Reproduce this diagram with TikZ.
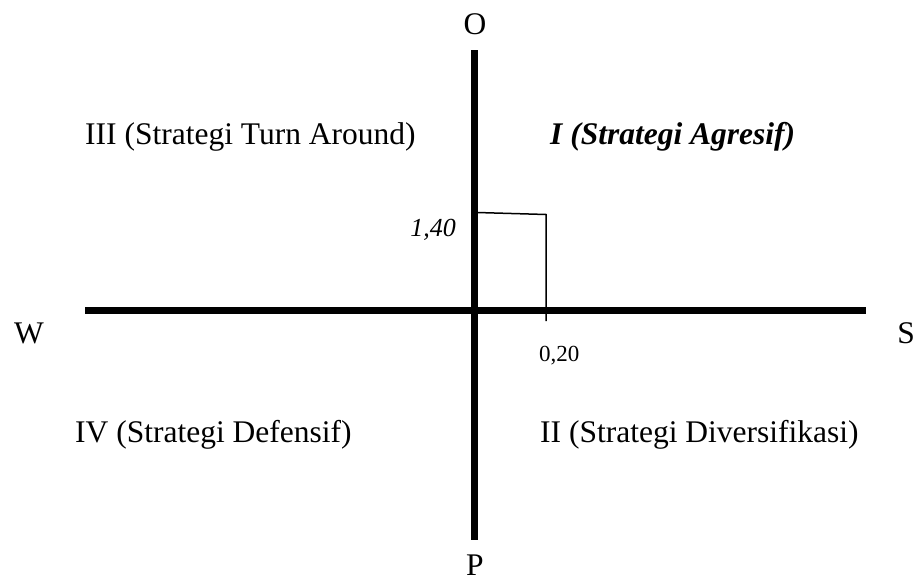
\documentclass[tikz,border=0pt]{standalone}
\usepackage{fontspec}
\setmainfont{Liberation Serif}
\begin{document}
\begin{tikzpicture}[x=1pt, y=-1pt,
  every node/.style={font=\fontsize{31.5}{36}\selectfont, inner sep=0pt},
  axis/.style={line width=7pt},
  guide/.style={line width=1.5pt}]
  \useasboundingbox (0,0) rectangle (924,581);
  % axes
  \coordinate (otop) at (474,50);
  \coordinate (pbot) at (474,540);
  \coordinate (wend) at (85,310);
  \coordinate (send) at (866,310);
  \draw[axis] (otop) -- (pbot);
  \draw[axis] (wend) -- (send);
  % point
  \coordinate (ytick) at (477,212.5);
  \coordinate (corner) at (546,214.5);
  \coordinate (xtick) at (546,321);
  \draw[guide] (ytick) -- (corner) -- (xtick);
  % labels
  \node (o) at (475,24) {O};
  \node[anchor=base] (p) at (475,575) {P};
  \node (w) at (29,333) {W};
  \node (s) at (906,333) {S};
  \node[anchor=west] (q3) at (85,137) {III (Strategi Turn Around)};
  \node[anchor=west] (q1) at (550,137) {\bfseries\itshape I (Strategi Agresif)};
  \node[anchor=west] (q4) at (75,435) {IV (Strategi Defensif)};
  \node[anchor=west] (q2) at (540,435) {II (Strategi Diversifikasi)};
  \node[anchor=east, font=\fontsize{26}{30}\selectfont\itshape] (yval) at (456,230) {1,40};
  \node[anchor=west, font=\fontsize{23}{27}\selectfont] (xval) at (539,356) {0,20};
\end{tikzpicture}
\end{document}
